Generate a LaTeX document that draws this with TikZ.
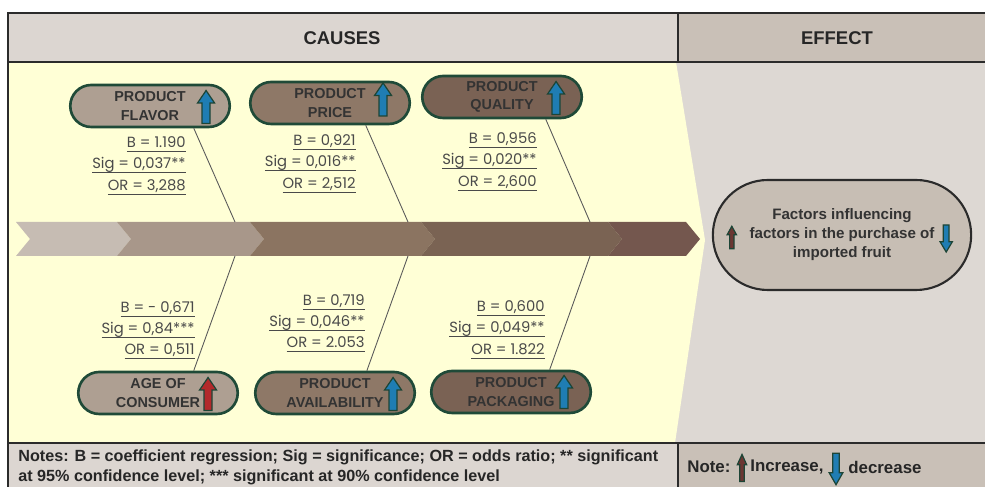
\documentclass[tikz,border=0pt]{standalone}
\usepackage{fontspec}
\setmainfont{Liberation Sans}
\newfontfamily\statfont{Poppins}
\usepackage{tikz}
\usetikzlibrary{calc}
\usetikzlibrary{shapes.misc}

\definecolor{hdrlight}{HTML}{DCD6D1}
\definecolor{hdrdark}{HTML}{C9C0B7}
\definecolor{bodyyellow}{HTML}{FFFFD6}
\definecolor{bodygrey}{HTML}{DDD8D3}
\definecolor{frameline}{HTML}{2B2B2B}
\definecolor{segA}{HTML}{C6BCB3}
\definecolor{segB}{HTML}{A8978A}
\definecolor{segC}{HTML}{8B7461}
\definecolor{segD}{HTML}{7A6353}
\definecolor{segE}{HTML}{74574E}
\definecolor{pillA}{HTML}{AE9F92}
\definecolor{pillB}{HTML}{8E7867}
\definecolor{pillC}{HTML}{7A6254}
\definecolor{pillline}{HTML}{1F4A38}
\definecolor{arrblue}{HTML}{1F7DB3}
\definecolor{arrred}{HTML}{B3292B}
\definecolor{arrbrown}{HTML}{6B3632}
\definecolor{arrline}{HTML}{1D4536}
\definecolor{stattxt}{HTML}{4A4A4A}
\definecolor{effectfill}{HTML}{C7BEB4}

\newcommand{\statline}[1]{\underline{\raisebox{0pt}[\height][0.8pt]{#1}}}

\tikzset{
  hdr/.style={font=\bfseries\fontsize{10.5}{12}\selectfont, text=black!85},
  cause/.style={rounded rectangle, draw=pillline, line width=1.5pt,
    minimum width=3.26cm, minimum height=0.84cm, inner sep=1pt, align=center,
    font=\bfseries\fontsize{8.2}{10.4}\selectfont, text=black!80},
  stats/.style={anchor=east, align=right, inner sep=0pt,
    font=\statfont\fontsize{8.4}{12.2}\selectfont, text=stattxt},
  bone/.style={draw=black!65, line width=0.5pt},
  frame/.style={draw=frameline, line width=1.1pt},
  notetxt/.style={anchor=west, inner sep=0pt, align=left,
    font=\bfseries\fontsize{9.2}{11.4}\selectfont, text=black!85},
  pics/blkup/.style={code={
    \draw[draw=arrline, line width=0.7pt, fill=#1] (-0.08,-0.33) -- (-0.08,0.08) -- (-0.17,0.08)
      -- (0,0.33) -- (0.17,0.08) -- (0.08,0.08) -- (0.08,-0.33) -- cycle;
  }}
}

\begin{document}
\begin{tikzpicture}
            \useasboundingbox (0,0) rectangle (19.7,9.74);
            \clip (0,0) rectangle (19.7,9.74);

            % backgrounds
            \fill[hdrlight] (0.16,8.5) rectangle (13.56,9.48);
            \fill[hdrdark] (13.56,8.5) rectangle (19.9,9.48);
            \fill[bodygrey] (0.16,0.88) rectangle (19.9,8.5);
            \fill[bodyyellow] (0.16,8.5) -- (13.52,8.5) -- (14.1,4.94) -- (13.5,0.88) -- (0.16,0.88) -- cycle;
            \fill[hdrlight] (0.16,-0.1) rectangle (13.56,0.88);
            \fill[hdrdark] (13.56,-0.1) rectangle (19.9,0.88);

            % frame
            \draw[frame] (0.16,-0.1) -- (0.16,9.48) -- (19.9,9.48);
            \draw[frame] (0.16,8.5) -- (19.9,8.5);
            \draw[frame] (13.56,8.5) -- (13.56,9.48);
            \draw[frame] (0.16,0.88) -- (19.9,0.88);
            \draw[frame] (13.56,0.88) -- (13.56,-0.1);

            \node[hdr] (hcauses) at (6.84,8.98) {CAUSES};
            \node[hdr] (heffect) at (16.74,8.98) {EFFECT};

            % spine
            \fill[segA] (0.32,5.3) -- (2.34,5.3) -- (2.62,4.96) -- (2.34,4.62) -- (0.32,4.62) -- (0.6,4.96) -- cycle;
            \fill[segB] (2.34,5.3) -- (5.0,5.3) -- (5.28,4.96) -- (5.0,4.62) -- (2.34,4.62) -- (2.62,4.96) -- cycle;
            \fill[segC] (5.0,5.3) -- (8.42,5.3) -- (8.7,4.96) -- (8.42,4.62) -- (5.0,4.62) -- (5.28,4.96) -- cycle;
            \fill[segD] (8.42,5.3) -- (12.16,5.3) -- (12.44,4.96) -- (12.16,4.62) -- (8.42,4.62) -- (8.7,4.96) -- cycle;
            \fill[segE] (12.16,5.3) -- (13.72,5.3) -- (14.0,4.96) -- (13.72,4.62) -- (12.16,4.62) -- (12.44,4.96) -- cycle;

            \coordinate (jt1) at (4.7,5.3);
            \coordinate (jt2) at (8.16,5.3);
            \coordinate (jt3) at (11.8,5.3);
            \coordinate (jb1) at (4.7,4.62);
            \coordinate (jb2) at (8.16,4.62);
            \coordinate (jb3) at (11.8,4.62);

            % causes
            \node[cause, fill=pillA] (flavor) at (3.0,7.62) {PRODUCT\\FLAVOR};
            \node[cause, fill=pillB] (price) at (6.6,7.68) {PRODUCT\\PRICE};
            \node[cause, fill=pillC] (quality) at (10.04,7.8) {PRODUCT\\QUALITY};
            \node[cause, fill=pillA] (consumer) at (3.16,1.88) {AGE OF\\CONSUMER};
            \node[cause, fill=pillB] (availability) at (6.7,1.88) {PRODUCT\\AVAILABILITY};
            \node[cause, fill=pillC] (packaging) at (10.22,1.9) {PRODUCT\\PACKAGING};

            \pic at ($(flavor.east)+(-0.5,-0.02)$) {blkup=arrblue};
            \pic at ($(price.east)+(-0.56,0.07)$) {blkup=arrblue};
            \pic at ($(quality.east)+(-0.54,-0.02)$) {blkup=arrblue};
            \pic at ($(consumer.east)+(-0.62,-0.02)$) {blkup=arrred};
            \pic at ($(availability.east)+(-0.46,-0.02)$) {blkup=arrblue};
            \pic at ($(packaging.east)+(-0.56,0)$) {blkup=arrblue};

            \draw[bone] (flavor.-27) -- (jt1);
            \draw[bone] (price.-32) -- (jt2);
            \draw[bone] (quality.-27) -- (jt3);
            \draw[bone] (consumer.32) -- (jb1);
            \draw[bone] (availability.35) -- (jb2);
            \draw[bone] (packaging.30) -- (jb3);

            \node[stats] (sflavor) at (3.72,6.42) {\statline{B = 1.190}\\\statline{Sig = 0,037**}\\\statline{OR = 3,288}};
            \node[stats] (sprice) at (7.12,6.46) {\statline{B = 0,921}\\\statline{Sig = 0,016**}\\\statline{OR = 2,512}};
            \node[stats] (squality) at (10.74,6.5) {\statline{B = 0,956}\\\statline{Sig = 0,020**}\\\statline{OR = 2,600}};
            \node[stats] (sconsumer) at (3.9,3.13) {\statline{B = - 0,671}\\\statline{Sig = 0,84***}\\\statline{OR = 0,511}};
            \node[stats] (savailability) at (7.3,3.27) {\statline{B = 0,719}\\\statline{Sig = 0,046**}\\\statline{OR = 2.053}};
            \node[stats] (spackaging) at (10.9,3.14) {\statline{B = 0,600}\\\statline{Sig = 0,049**}\\\statline{OR = 1.822}};

            % effect
            \node[rounded rectangle, draw=frameline, line width=1.2pt, fill=effectfill,
                  minimum width=5.4cm, minimum height=2.2cm, align=center,
                  font=\bfseries\fontsize{8.6}{10.8}\selectfont, text=black!80]
                  (purchase) at (16.84,5.04) {Factors influencing\\factors in the purchase of\\imported fruit};
            \pic[xscale=0.55, yscale=0.68] at ($(purchase.west)+(0.4,-0.05)$) {blkup=arrbrown};
            \pic[xscale=0.72, yscale=0.82, rotate=180] at ($(purchase.east)+(-0.52,-0.07)$) {blkup=arrblue};

            % notes
            \node[notetxt] (notes) at (0.36,0.4) {Notes: B = coefficient regression; Sig = significance; OR = odds ratio; ** significant\\at 95\% confidence level; *** significant at 90\% confidence level};
            \node[notetxt, font=\bfseries\fontsize{9.6}{11.4}\selectfont] (note) at (13.74,0.4) {Note:};
            \pic[xscale=0.55, yscale=0.82] at (14.84,0.38) {blkup=arrbrown};
            \node[notetxt, font=\bfseries\fontsize{9.6}{11.4}\selectfont] (increase) at (15.0,0.4) {Increase,};
            \pic[xscale=0.8, yscale=0.95, rotate=180] at (16.72,0.36) {blkup=arrblue};
            \node[notetxt, font=\bfseries\fontsize{9.6}{11.4}\selectfont] (decrease) at (16.96,0.4) {decrease};
        \end{tikzpicture}
\end{document}
